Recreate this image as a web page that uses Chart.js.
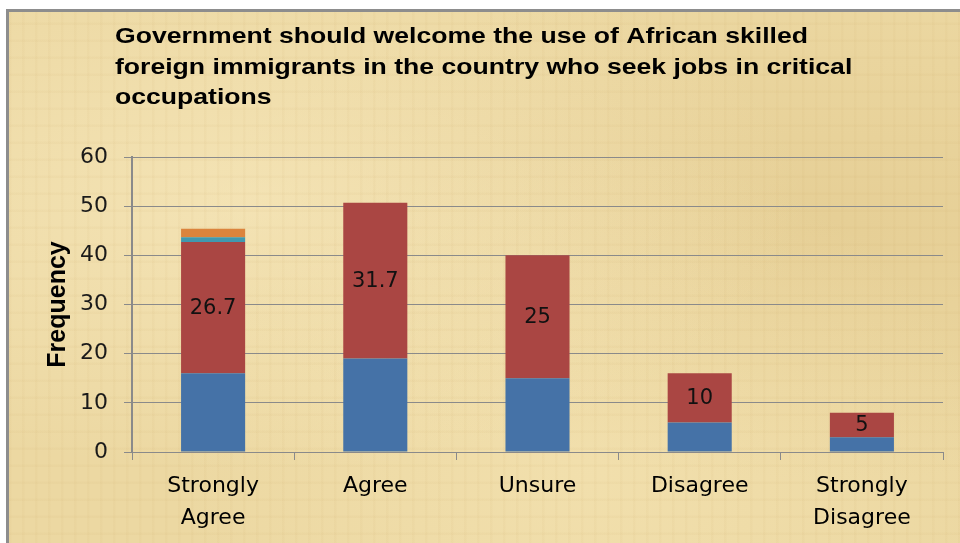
<!DOCTYPE html>
<html>
<head>
<meta charset="utf-8">
<script src="https://cdn.jsdelivr.net/npm/chart.js@4"></script>
<style>
  html, body { margin: 0; padding: 0; background: #fff; width: 960px; height: 543px; overflow: hidden; }
  #paper {
    position: absolute; left: 6px; top: 9px; width: 960px; height: 540px;
    border-left: 3px solid #8d8d8d; border-top: 3px solid #8d8d8d;
    background:
      repeating-linear-gradient(90deg, rgba(190,150,80,0.05) 0px, rgba(190,150,80,0.05) 2px, rgba(255,255,255,0) 3px, rgba(255,255,255,0) 13px),
      repeating-linear-gradient(0deg, rgba(190,150,80,0.05) 0px, rgba(190,150,80,0.05) 2px, rgba(255,255,255,0) 3px, rgba(255,255,255,0) 17px),
      radial-gradient(ellipse at 25% 35%, rgba(250,236,195,0.55), rgba(250,236,195,0) 55%),
      radial-gradient(ellipse at 60% 85%, rgba(248,232,185,0.45), rgba(248,232,185,0) 50%),
      radial-gradient(ellipse at 85% 40%, rgba(215,185,120,0.30), rgba(215,185,120,0) 55%),
      #ecd8a2;
  }
  #wrap { position: absolute; left: 0; top: 0; width: 960px; height: 543px; }
</style>
</head>
<body>
<div id="paper"></div>
<div id="wrap"><canvas id="chart" width="960" height="543"></canvas></div>
<script>
// chart values
const categories = [['Strongly', 'Agree'], 'Agree', 'Unsure', 'Disagree', ['Strongly', 'Disagree']];
const blueValues = [16, 19, 15, 6, 3];
const redValues = [26.7, 31.7, 25, 10, 5];
const tealValues = [1, 0, 0, 0, 0];
const orangeValues = [1.7, 0, 0, 0, 0];
const yTicks = [0, 10, 20, 30, 40, 50, 60];
const titleLines = [
    'Government should welcome the use of African skilled',
    'foreign immigrants in the country who seek jobs in critical',
    'occupations'
];

const gridGray = '#8a8a8a';

// title drawn at the top left, a bit stretched like the original
const titlePlugin = {
    id: 'titleLines',
    afterDraw(chart) {
        const ctx = chart.ctx;
        ctx.save();
        ctx.font = 'bold 22px "Liberation Sans", Arial, sans-serif';
        ctx.fillStyle = '#000';
        ctx.textBaseline = 'alphabetic';
        const sx = 693 / ctx.measureText(titleLines[0]).width;
        titleLines.forEach((line, i) => {
            ctx.save();
            ctx.translate(115, 43 + i * 30.5);
            ctx.scale(sx, 1);
            ctx.fillText(line, 0, 0);
            ctx.restore();
        });
        ctx.restore();
    }
};

// value labels in the middle of the red segments
const valueLabels = {
    id: 'valueLabels',
    afterDatasetsDraw(chart) {
        const ctx = chart.ctx;
        const meta = chart.getDatasetMeta(1);
        ctx.save();
        ctx.font = '21px "DejaVu Sans", sans-serif';
        ctx.fillStyle = '#111';
        ctx.textAlign = 'center';
        ctx.textBaseline = 'middle';
        meta.data.forEach((bar, i) => {
            const { x, y, base } = bar.getProps(['x', 'y', 'base'], true);
            ctx.fillText(String(redValues[i]), x, (y + base) / 2 + 1);
        });
        ctx.restore();
    }
};

const ctx = document.getElementById('chart').getContext('2d');
const chart = new Chart(ctx, {
    type: 'bar',
    data: {
        labels: categories,
        datasets: [
            { label: 'blue', data: blueValues, backgroundColor: '#4572a7' },
            { label: 'red', data: redValues, backgroundColor: '#aa4643' },
            { label: 'teal', data: tealValues, backgroundColor: '#4198af' },
            { label: 'orange', data: orangeValues, backgroundColor: '#db843d' }
        ]
    },
    options: {
        responsive: false,
        animation: false,
        events: [],
        layout: { padding: { left: 0, top: 157, right: 17, bottom: 0 } },
        datasets: {
            bar: { barPercentage: 0.395, categoryPercentage: 1, borderWidth: 0 }
        },
        plugins: {
            legend: { display: false },
            tooltip: { enabled: false },
            title: { display: false }
        },
        scales: {
            x: {
                stacked: true,
                grid: {
                    drawOnChartArea: false,
                    drawTicks: true,
                    tickLength: 8,
                    color: gridGray,
                    offset: true
                },
                border: { color: gridGray, width: 1 },
                ticks: {
                    color: '#000',
                    padding: 11,
                    maxRotation: 0,
                    autoSkip: false,
                    font: { family: '"DejaVu Sans", sans-serif', size: 22, lineHeight: 1.42 }
                },
                afterFit(scale) { scale.height = 543 - 452; }
            },
            y: {
                stacked: true,
                min: 0,
                max: 60,
                afterBuildTicks(scale) { scale.ticks = yTicks.map(v => ({ value: v })); },
                grid: { color: gridGray, lineWidth: 1, tickLength: 8 },
                border: { color: gridGray, width: 2 },
                ticks: {
                    color: '#1a1a1a',
                    padding: 16,
                    font: { family: '"DejaVu Sans", sans-serif', size: 22 }
                },
                title: {
                    display: true,
                    text: 'Frequency',
                    color: '#000',
                    padding: { top: 43, bottom: 0 },
                    font: { family: '"Liberation Sans", Arial, sans-serif', size: 25, weight: 'bold', lineHeight: 1.2 }
                },
                afterFit(scale) { scale.width = 132; }
            }
        }
    },
    plugins: [titlePlugin, valueLabels]
});
</script>
</body>
</html>
